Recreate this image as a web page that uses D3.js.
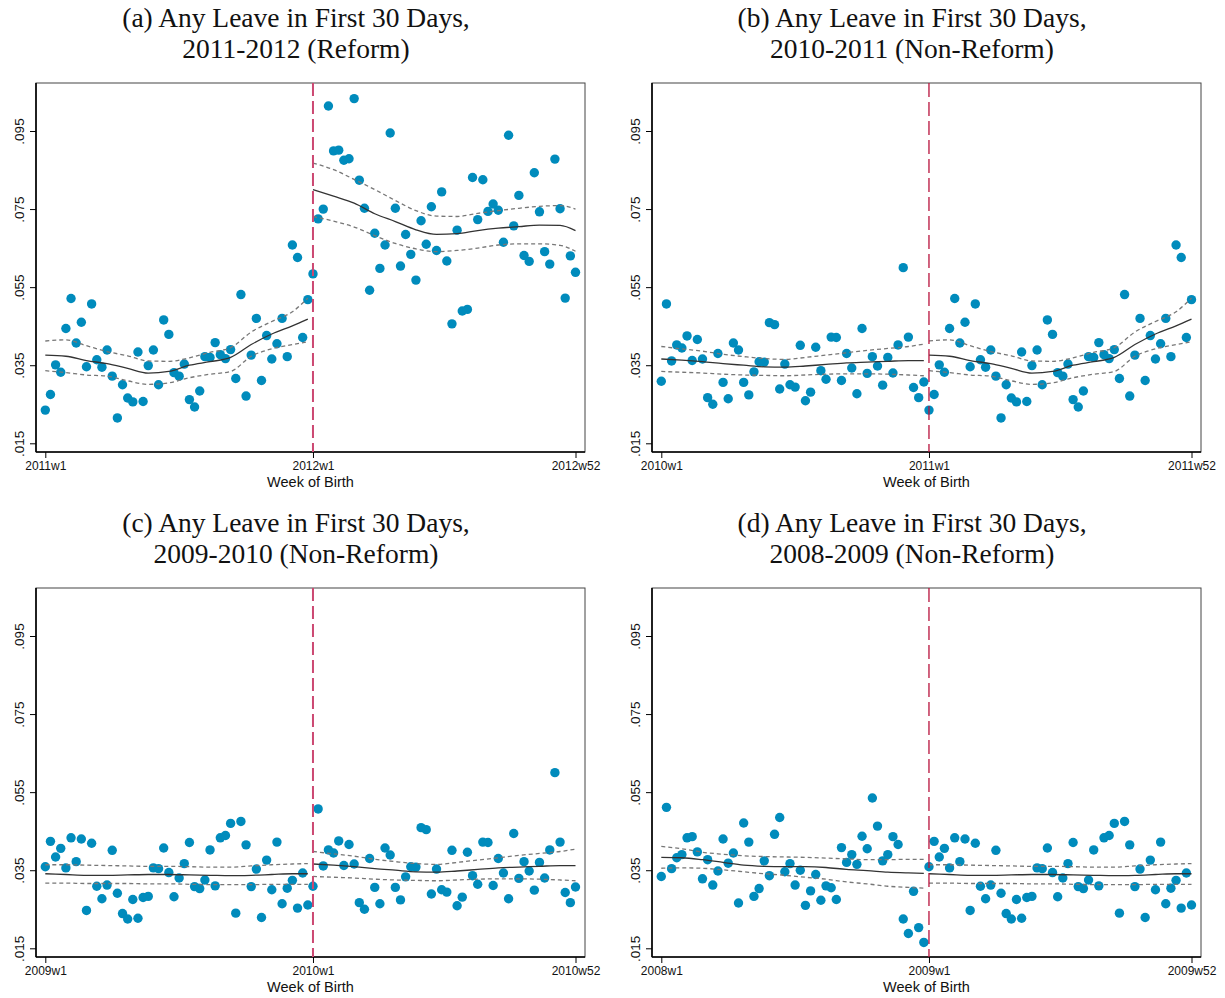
<!DOCTYPE html>
<html>
<head>
<meta charset="utf-8">
<script src="https://cdn.jsdelivr.net/npm/d3@7"></script>
<style>
  body { margin: 0; background: #fff; }
  svg { display: block; }
</style>
</head>
<body>
<svg id="chart"></svg>
<script>
var width = 1225;
var height = 998;

// share with any leave in first 30 days, by week of birth (weeks 1-52 of each year)
var rate2008 = [0.0334, 0.0511, 0.0354, 0.0382, 0.0390, 0.0433, 0.0436, 0.0397, 0.0328, 0.0377,
  0.0312, 0.0348, 0.0430, 0.0368, 0.0394, 0.0266, 0.0471, 0.0422, 0.0283, 0.0303,
  0.0374, 0.0336, 0.0442, 0.0485, 0.0346, 0.0367, 0.0312, 0.0350, 0.0260, 0.0297,
  0.0339, 0.0273, 0.0310, 0.0305, 0.0275, 0.0408, 0.0370, 0.0390, 0.0365, 0.0437,
  0.0405, 0.0535, 0.0463, 0.0374, 0.0390, 0.0436, 0.0416, 0.0225, 0.0188, 0.0296,
  0.0203, 0.0165];
var rate2009 = [0.0359, 0.0424, 0.0384, 0.0406, 0.0356, 0.0433, 0.0372, 0.0430, 0.0247, 0.0419,
  0.0309, 0.0277, 0.0312, 0.0401, 0.0291, 0.0239, 0.0225, 0.0275, 0.0227, 0.0280,
  0.0283, 0.0356, 0.0354, 0.0407, 0.0344, 0.0282, 0.0330, 0.0367, 0.0421, 0.0308,
  0.0303, 0.0325, 0.0402, 0.0310, 0.0433, 0.0439, 0.0470, 0.0240, 0.0475, 0.0415,
  0.0308, 0.0353, 0.0229, 0.0376, 0.0300, 0.0422, 0.0264, 0.0304, 0.0324, 0.0253,
  0.0343, 0.0261];
var rate2010 = [0.0309, 0.0507, 0.0361, 0.0402, 0.0394, 0.0425, 0.0362, 0.0416, 0.0366, 0.0267,
  0.0250, 0.0380, 0.0306, 0.0264, 0.0407, 0.0389, 0.0306, 0.0274, 0.0333, 0.0359,
  0.0358, 0.0459, 0.0454, 0.0289, 0.0353, 0.0300, 0.0294, 0.0401, 0.0259, 0.0281,
  0.0396, 0.0336, 0.0314, 0.0422, 0.0421, 0.0311, 0.0380, 0.0343, 0.0277, 0.0444,
  0.0329, 0.0372, 0.0348, 0.0299, 0.0370, 0.0330, 0.0402, 0.0600, 0.0422, 0.0293,
  0.0267, 0.0307];
var rate2011 = [0.0235, 0.0275, 0.0351, 0.0332, 0.0444, 0.0521, 0.0407, 0.0460, 0.0346, 0.0507,
  0.0364, 0.0345, 0.0389, 0.0322, 0.0215, 0.0300, 0.0266, 0.0256, 0.0384, 0.0257,
  0.0349, 0.0389, 0.0300, 0.0466, 0.0429, 0.0331, 0.0322, 0.0353, 0.0262, 0.0243,
  0.0284, 0.0372, 0.0370, 0.0408, 0.0377, 0.0367, 0.0390, 0.0316, 0.0531, 0.0271,
  0.0376, 0.0470, 0.0311, 0.0426, 0.0366, 0.0405, 0.0470, 0.0372, 0.0658, 0.0626,
  0.0421, 0.0518];
var rate2012 = [0.0584, 0.0725, 0.0750, 0.1014, 0.0899, 0.0901, 0.0875, 0.0879, 0.1033, 0.0824,
  0.0752, 0.0542, 0.0688, 0.0598, 0.0658, 0.0945, 0.0752, 0.0604, 0.0685, 0.0634,
  0.0568, 0.0720, 0.0660, 0.0756, 0.0644, 0.0794, 0.0617, 0.0456, 0.0696, 0.0489,
  0.0493, 0.0831, 0.0723, 0.0825, 0.0744, 0.0763, 0.0747, 0.0665, 0.0939, 0.0707,
  0.0785, 0.0631, 0.0616, 0.0843, 0.0743, 0.0641, 0.0609, 0.0878, 0.0751, 0.0522,
  0.0630, 0.0588];

// smoothed fit and 95% band, read at these weeks
var fitWeeks = [1, 5, 9, 13, 17, 21, 25, 29, 33, 37, 41, 45, 49, 52];
var fit2008 = [0.0383, 0.0382, 0.0377, 0.0370, 0.0363, 0.0360, 0.0359, 0.0359, 0.0357, 0.0352, 0.0349, 0.0345, 0.0343, 0.0342];
var hi2008  = [0.0411, 0.0405, 0.0396, 0.0391, 0.0387, 0.0385, 0.0384, 0.0383, 0.0381, 0.0379, 0.0377, 0.0377, 0.0378, 0.0378];
var lo2008  = [0.0355, 0.0356, 0.0355, 0.0351, 0.0346, 0.0341, 0.0337, 0.0332, 0.0327, 0.0320, 0.0315, 0.0309, 0.0306, 0.0304];
var fit2009 = [0.0341, 0.0339, 0.0337, 0.0337, 0.0338, 0.0339, 0.0339, 0.0338, 0.0337, 0.0336, 0.0337, 0.0339, 0.0341, 0.0341];
var hi2009  = [0.0364, 0.0364, 0.0363, 0.0362, 0.0361, 0.0360, 0.0360, 0.0359, 0.0358, 0.0358, 0.0361, 0.0364, 0.0366, 0.0367];
var lo2009  = [0.0317, 0.0317, 0.0316, 0.0316, 0.0316, 0.0315, 0.0315, 0.0314, 0.0313, 0.0313, 0.0313, 0.0314, 0.0314, 0.0314];
var fit2010 = [0.0366, 0.0363, 0.0359, 0.0354, 0.0350, 0.0346, 0.0345, 0.0348, 0.0352, 0.0356, 0.0358, 0.0360, 0.0362, 0.0362];
var hi2010  = [0.0398, 0.0392, 0.0386, 0.0378, 0.0372, 0.0367, 0.0365, 0.0370, 0.0376, 0.0382, 0.0388, 0.0393, 0.0398, 0.0404];
var lo2010  = [0.0334, 0.0332, 0.0330, 0.0327, 0.0325, 0.0324, 0.0323, 0.0325, 0.0327, 0.0328, 0.0328, 0.0327, 0.0325, 0.0323];
var fit2011 = [0.0376, 0.0373, 0.0362, 0.0354, 0.0342, 0.0330, 0.0334, 0.0350, 0.0359, 0.0370, 0.0403, 0.0430, 0.0451, 0.0468];
var hi2011  = [0.0412, 0.0415, 0.0400, 0.0385, 0.0374, 0.0361, 0.0360, 0.0369, 0.0383, 0.0395, 0.0435, 0.0462, 0.0487, 0.0522];
var lo2011  = [0.0336, 0.0331, 0.0325, 0.0322, 0.0310, 0.0301, 0.0305, 0.0318, 0.0327, 0.0334, 0.0373, 0.0392, 0.0403, 0.0410];
var fit2012 = [0.0800, 0.0783, 0.0765, 0.0738, 0.0718, 0.0697, 0.0685, 0.0687, 0.0695, 0.0701, 0.0705, 0.0709, 0.0708, 0.0695];
var hi2012  = [0.0868, 0.0851, 0.0826, 0.0800, 0.0772, 0.0746, 0.0732, 0.0731, 0.0739, 0.0746, 0.0752, 0.0757, 0.0759, 0.0750];
var lo2012  = [0.0731, 0.0719, 0.0704, 0.0682, 0.0662, 0.0648, 0.0641, 0.0644, 0.0650, 0.0658, 0.0661, 0.0661, 0.0657, 0.0642];

var yTicks = [0.015, 0.035, 0.055, 0.075, 0.095];

var years = {
  2008: { rate: rate2008, fit: fit2008, hi: hi2008, lo: lo2008 },
  2009: { rate: rate2009, fit: fit2009, hi: hi2009, lo: lo2009 },
  2010: { rate: rate2010, fit: fit2010, hi: hi2010, lo: lo2010 },
  2011: { rate: rate2011, fit: fit2011, hi: hi2011, lo: lo2011 },
  2012: { rate: rate2012, fit: fit2012, hi: hi2012, lo: lo2012 }
};

var panels = [
  { title: ['(a) Any Leave in First 30 Days,', '2011-2012 (Reform)'], first: 2011, left: 36, top: 83,
    cut: '#cc4872', cutWidth: 2, cutDash: '13,5' },
  { title: ['(b) Any Leave in First 30 Days,', '2010-2011 (Non-Reform)'], first: 2010, left: 652, top: 83,
    cut: '#b8123c', cutWidth: 1.3, cutDash: '14,5' },
  { title: ['(c) Any Leave in First 30 Days,', '2009-2010 (Non-Reform)'], first: 2009, left: 36, top: 588,
    cut: '#cc4872', cutWidth: 2, cutDash: '13,5' },
  { title: ['(d) Any Leave in First 30 Days,', '2008-2009 (Non-Reform)'], first: 2008, left: 652, top: 588,
    cut: '#b8123c', cutWidth: 1.3, cutDash: '14,5' }
];

var frameW = 549;
var frameH = 369;

var svg = d3.select('#chart')
  .attr('width', width)
  .attr('height', height)
  .style('font-family', "'Liberation Sans', Arial, sans-serif");

panels.forEach(drawPanel);

function drawPanel(p) {
  var g = svg.append('g');

  var xScale = d3.scaleLinear()
    .domain([1, 104])
    .range([p.left + 9.3, p.left + frameW - 9.5]);

  var yScale = d3.scaleLinear()
    .domain([0.015, 0.095])
    .range([p.top + 360.3, p.top + 48]);

  // title
  p.title.forEach(function(line, i) {
    g.append('text')
      .attr('x', p.left + 260)
      .attr('y', p.top - 56 + i * 31)
      .style('font-family', "'Liberation Serif', 'Times New Roman', serif")
      .style('font-size', '27.5px')
      .style('text-anchor', 'middle')
      .attr('fill', '#111')
      .text(line);
  });

  // frame
  g.append('rect')
    .attr('x', p.left)
    .attr('y', p.top)
    .attr('width', frameW)
    .attr('height', frameH)
    .attr('fill', 'none')
    .attr('stroke', '#444')
    .attr('stroke-width', 1);

  var xLabels = [p.first + 'w1', (p.first + 1) + 'w1', (p.first + 1) + 'w52'];

  var xAxis = g.append('g')
    .attr('transform', 'translate(0,' + (p.top + frameH) + ')')
    .call(d3.axisBottom(xScale)
      .tickValues([1, 53, 104])
      .tickFormat((d, i) => xLabels[i])
      .tickSize(6)
      .tickSizeOuter(0));
  xAxis.select('.domain').remove();
  xAxis.selectAll('text')
    .style('font-size', '12px')
    .style('font-family', "'Liberation Sans', Arial, sans-serif")
    .attr('fill', '#111');

  var yAxis = g.append('g')
    .attr('transform', 'translate(' + p.left + ',0)')
    .call(d3.axisLeft(yScale)
      .tickValues(yTicks)
      .tickFormat(d => d3.format('.3f')(d).slice(1))
      .tickSize(6)
      .tickSizeOuter(0));
  yAxis.select('.domain').remove();
  yAxis.selectAll('text')
    .attr('transform', 'rotate(-90)')
    .attr('x', 0)
    .attr('y', -12)
    .attr('dy', 0)
    .style('text-anchor', 'middle')
    .style('font-size', '13.5px')
    .style('font-family', "'Liberation Sans', Arial, sans-serif")
    .attr('fill', '#111');

  // left and bottom axis lines
  g.append('line')
    .attr('x1', p.left).attr('x2', p.left)
    .attr('y1', p.top).attr('y2', p.top + frameH)
    .attr('stroke', '#000').attr('stroke-width', 1.6);
  g.append('line')
    .attr('x1', p.left).attr('x2', p.left + frameW)
    .attr('y1', p.top + frameH).attr('y2', p.top + frameH)
    .attr('stroke', '#000').attr('stroke-width', 1.6);

  g.append('text')
    .attr('x', p.left + frameW / 2)
    .attr('y', p.top + frameH + 35)
    .style('text-anchor', 'middle')
    .style('font-size', '14.5px')
    .attr('fill', '#111')
    .text('Week of Birth');

  [p.first, p.first + 1].forEach(function(yr, k) {
    var offset = k * 52;
    var d = years[yr];

    g.append('g')
      .selectAll('circle')
      .data(d.rate)
      .enter()
      .append('circle')
      .attr('cx', (v, i) => xScale(i + 1 + offset))
      .attr('cy', v => yScale(v))
      .attr('r', 4.7)
      .attr('fill', '#008bbc');

    var line = d3.line()
      .x((v, i) => xScale(fitWeeks[i] + offset))
      .y(v => yScale(v))
      .curve(d3.curveMonotoneX);

    g.append('path')
      .attr('d', line(d.hi))
      .attr('fill', 'none')
      .attr('stroke', '#777')
      .attr('stroke-width', 1.3)
      .attr('stroke-dasharray', '4,3');

    g.append('path')
      .attr('d', line(d.lo))
      .attr('fill', 'none')
      .attr('stroke', '#777')
      .attr('stroke-width', 1.3)
      .attr('stroke-dasharray', '4,3');

    g.append('path')
      .attr('d', line(d.fit))
      .attr('fill', 'none')
      .attr('stroke', '#333')
      .attr('stroke-width', 1.3);
  });

  // year boundary
  g.append('line')
    .attr('x1', xScale(53)).attr('x2', xScale(53))
    .attr('y1', p.top).attr('y2', p.top + frameH)
    .attr('stroke', p.cut)
    .attr('stroke-width', p.cutWidth)
    .attr('stroke-dasharray', p.cutDash);
}
</script>
</body>
</html>
